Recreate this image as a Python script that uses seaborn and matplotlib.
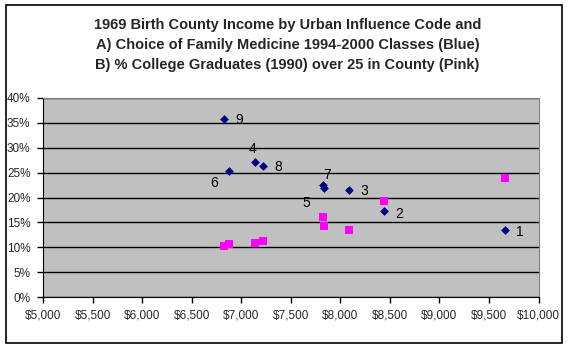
import seaborn as sns
import matplotlib.pyplot as plt
import pandas as pd
from matplotlib.patches import Rectangle
from matplotlib.ticker import FuncFormatter, MultipleLocator

# urban influence codes 1..9
codes = ["1", "2", "3", "4", "5", "6", "7", "8", "9"]
income = [9660, 8444, 8091, 7141, 7838, 6879, 7825, 7222, 6828]
fam_med = [13.4, 17.3, 21.6, 27.2, 22.0, 25.4, 22.6, 26.4, 35.8]
college = [24.0, 19.2, 13.5, 10.9, 14.3, 10.6, 16.1, 11.3, 10.3]

# label offsets in points (dx, dy) per code
label_offsets = {
    "1": (8, -4), "2": (8, -5), "3": (8, -4), "4": (-5, 6), "5": (-16, -14),
    "6": (-14, -12), "7": (0, 4), "8": (8, -4), "9": (8, -4),
}

df = pd.DataFrame({"code": codes, "income": income,
                   "fam_med": fam_med, "college": college})

sns.set_style("white")
plt.rcParams["font.family"] = ["Liberation Sans", "DejaVu Sans"]

fig = plt.figure(figsize=(5.69, 3.51), dpi=100)
ax = fig.add_axes([43 / 569, 1 - 297 / 351, 495.5 / 569, 199 / 351])
ax.set_facecolor("#C0C0C0")

sns.scatterplot(data=df, x="income", y="college", ax=ax, marker="s",
                color="#FF00FF", s=28, linewidth=0, zorder=3)
sns.scatterplot(data=df, x="income", y="fam_med", ax=ax, marker="D",
                color="#000080", s=20, linewidth=0, zorder=4)

for c, xv, yv in zip(codes, income, fam_med):
    dx, dy = label_offsets[c]
    ax.annotate(c, (xv, yv), xytext=(dx, dy), textcoords="offset points",
                fontsize=10, color="black", zorder=5)

ax.set_xlim(5000, 10000)
ax.set_ylim(0, 40)
ax.xaxis.set_major_locator(MultipleLocator(500))
ax.yaxis.set_major_locator(MultipleLocator(5))
ax.xaxis.set_major_formatter(FuncFormatter(lambda v, p: "${:,.0f}".format(v)))
ax.yaxis.set_major_formatter(FuncFormatter(lambda v, p: "{:.0f}%".format(v)))
ax.yaxis.grid(True, color="black", linewidth=1)
ax.set_axisbelow(True)
ax.tick_params(axis="both", which="major", labelsize=8.5, length=4,
               width=1, color="black", direction="out", pad=5)
ax.tick_params(axis="x", bottom=True)
ax.tick_params(axis="y", left=True)
ax.set_xlabel("")
ax.set_ylabel("")
for side in ["top", "right"]:
    ax.spines[side].set_color("#808080")
for side in ["left", "bottom"]:
    ax.spines[side].set_color("black")

fig.text(0.505, 1 - 45 / 351,
         "1969 Birth County Income by Urban Influence Code and\n"
         "A) Choice of Family Medicine 1994-2000 Classes (Blue)\n"
         "B) % College Graduates (1990) over 25 in County (Pink)",
         ha="center", va="center", fontsize=10.5, fontweight="bold",
         linespacing=1.5)

fig.patches.append(Rectangle((6 / 569, 1 - 343 / 351), 556 / 569, 338 / 351,
                             transform=fig.transFigure, fill=False,
                             edgecolor="black", linewidth=1.2))

fig.savefig("out.png", dpi=100)
